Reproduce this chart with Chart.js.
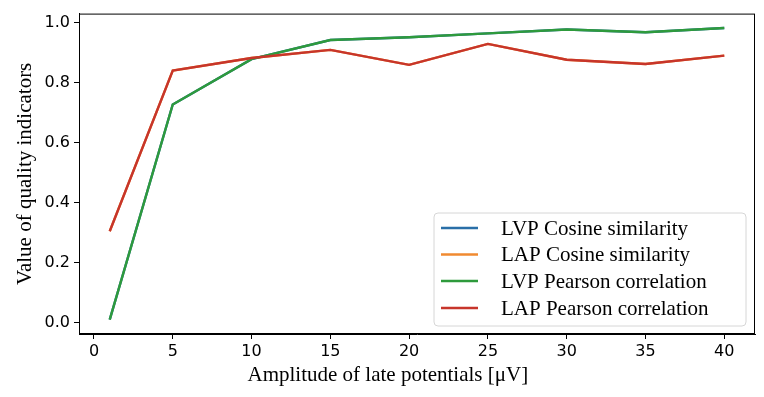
<!DOCTYPE html>
<html>
<head>
<meta charset="utf-8">
<script src="https://cdn.jsdelivr.net/npm/chart.js@4/dist/chart.umd.min.js"></script>
<style>
html,body{margin:0;padding:0;background:#fff;}
#wrap{width:764px;height:397px;position:relative;}
</style>
</head>
<body>
<div id="wrap"><canvas id="c" width="764" height="397"></canvas></div>
<script>
const amplitudes = [1, 5, 10, 15, 20, 25, 30, 35, 40];
const lvpCosine = [0.009, 0.727, 0.878, 0.942, 0.951, 0.964, 0.977, 0.968, 0.982];
const lapCosine = [0.304, 0.840, 0.882, 0.909, 0.859, 0.929, 0.876, 0.862, 0.890];
const lvpPearson = [0.009, 0.727, 0.878, 0.942, 0.951, 0.964, 0.977, 0.968, 0.982];
const lapPearson = [0.304, 0.840, 0.882, 0.909, 0.859, 0.929, 0.876, 0.862, 0.890];
const seriesNames = ['LVP Cosine similarity', 'LAP Cosine similarity', 'LVP Pearson correlation', 'LAP Pearson correlation'];
const xTicks = [0, 5, 10, 15, 20, 25, 30, 35, 40];
const yTicks = [0.0, 0.2, 0.4, 0.6, 0.8, 1.0];
const xTitle = 'Amplitude of late potentials [μV]';
const yTitle = 'Value of quality indicators';

const colors = ['#2a6fa8', '#f08a30', '#2e9a3c', '#c7352b'];
const seriesValues = [lvpCosine, lapCosine, lvpPearson, lapPearson];

function pts(vals){ return amplitudes.map((x,i)=>({x:x, y:vals[i]})); }

const datasets = seriesValues.map((v,i)=>({
  label: seriesNames[i],
  data: pts(v),
  borderColor: colors[i],
  backgroundColor: colors[i],
  borderWidth: 2.4,
  pointRadius: 0,
  tension: 0,
  fill: false,
  order: 4 - i
}));

const serif = "'Liberation Serif', 'Times New Roman', serif";
const sans = "'DejaVu Sans', sans-serif";

const extras = {
  id: 'extras',
  afterDraw(chart){
    const ctx = chart.ctx;
    const a = chart.chartArea;
    ctx.save();
    // frame
    ctx.strokeStyle = '#000';
    ctx.lineWidth = 1;
    ctx.strokeRect(a.left + 0.5, a.top + 0.5, a.right - a.left - 1, a.bottom - a.top - 1);
    // x title
    ctx.fillStyle = '#000';
    ctx.font = '21px ' + serif;
    ctx.textAlign = 'center';
    ctx.textBaseline = 'middle';
    const xs = chart.scales.x;
    ctx.fillText(xTitle, xs.getPixelForValue(18.65), 375);
    // y title
    ctx.save();
    ctx.translate(25, (a.top + a.bottom) / 2);
    ctx.rotate(-Math.PI / 2);
    ctx.fillText(yTitle, 0, 0);
    ctx.restore();
    // legend
    const lx = 434, ly = 213, lw = 312, lh = 113, r = 4;
    ctx.beginPath();
    ctx.moveTo(lx + r, ly);
    ctx.arcTo(lx + lw, ly, lx + lw, ly + lh, r);
    ctx.arcTo(lx + lw, ly + lh, lx, ly + lh, r);
    ctx.arcTo(lx, ly + lh, lx, ly, r);
    ctx.arcTo(lx, ly, lx + lw, ly, r);
    ctx.closePath();
    ctx.fillStyle = 'rgba(255,255,255,0.85)';
    ctx.fill();
    ctx.strokeStyle = '#d6d6d6';
    ctx.lineWidth = 1;
    ctx.stroke();
    const rows = [228, 254.5, 281, 308];
    ctx.textAlign = 'left';
    ctx.font = '21px ' + serif;
    seriesNames.forEach((n, i) => {
      ctx.strokeStyle = colors[i];
      ctx.lineWidth = 2.4;
      ctx.beginPath();
      ctx.moveTo(441, rows[i]);
      ctx.lineTo(478, rows[i]);
      ctx.stroke();
      ctx.fillStyle = '#000';
      ctx.fillText(n, 501, rows[i] + 1);
    });
    ctx.restore();
  }
};

new Chart(document.getElementById('c'), {
  type: 'line',
  data: { datasets },
  plugins: [extras],
  options: {
    responsive: false,
    animation: false,
    layout: { padding: { left: 0, right: 9, top: 13, bottom: 0 } },
    plugins: { legend: { display: false }, tooltip: { enabled: false } },
    scales: {
      x: {
        type: 'linear',
        min: -0.95, max: 41.95,
        afterBuildTicks(s){ s.ticks = xTicks.map(v => ({value: v})); },
        afterFit(s){ s.height = 63; },
        grid: { drawOnChartArea: false, drawTicks: true, tickLength: 5, color: '#000' },
        border: { display: true, color: '#000', width: 1 },
        ticks: { color: '#000', font: { family: sans, size: 16 }, padding: 3, maxRotation: 0,
                 callback: v => String(v) }
      },
      y: {
        type: 'linear',
        min: -0.0387, max: 1.0300,
        afterBuildTicks(s){ s.ticks = yTicks.map(v => ({value: v})); },
        afterFit(s){ s.width = 79; },
        grid: { drawOnChartArea: false, drawTicks: true, tickLength: 5, color: '#000' },
        border: { display: true, color: '#000', width: 1 },
        ticks: { color: '#000', font: { family: sans, size: 16 }, padding: 4,
                 callback: v => Number(v).toFixed(1) }
      }
    }
  }
});
</script>
</body>
</html>
